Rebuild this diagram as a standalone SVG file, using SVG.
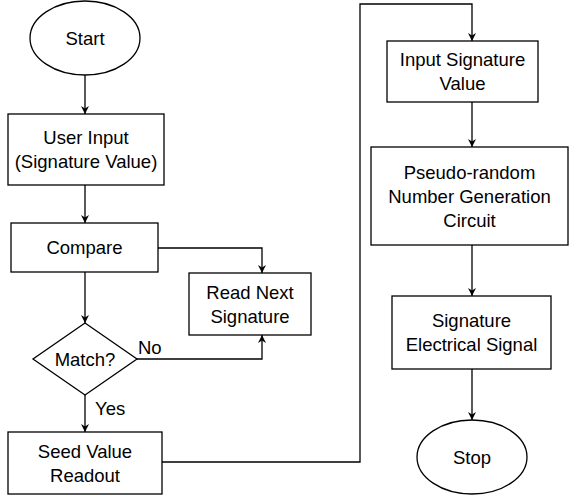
<svg xmlns="http://www.w3.org/2000/svg" width="569" height="496" viewBox="0 0 569 496">
<style>
.s{fill:#fff;stroke:#000;stroke-width:1.3}
.t{font-family:"Liberation Sans",Arial,sans-serif;font-size:18.5px;fill:#000;text-anchor:middle}
.l{font-family:"Liberation Sans",Arial,sans-serif;font-size:18.5px;fill:#000}
.c{fill:none;stroke:#000;stroke-width:1.3;marker-end:url(#a)}
</style>
<defs>
<marker id="a" viewBox="0 0 10 10" refX="10" refY="5" markerWidth="8" markerHeight="8" markerUnits="userSpaceOnUse" orient="auto">
<path d="M0,0 L10,5 L0,10 L3,5 Z" fill="#000"/>
</marker>
</defs>
<g id="connectors">
<path class="c" d="M85,75 V114"/>
<path class="c" d="M85,185 V223"/>
<path class="c" d="M158,248 H262 V273"/>
<path class="c" d="M85,272 V323"/>
<path class="c" d="M137,359 H262 V335"/>
<path class="c" d="M85,395 V432"/>
<path class="c" d="M162,462 H360 V4 H472 V41"/>
<path class="c" d="M472,102 V147"/>
<path class="c" d="M472,245 V296"/>
<path class="c" d="M472,369 V420"/>
<text class="l" x="138" y="354">No</text>
<text class="l" x="95" y="415">Yes</text>
</g>
<g id="start">
<ellipse class="s" cx="85" cy="38" rx="55" ry="37"/>
<text class="t" x="85" y="44.5">Start</text>
</g>
<g id="user-input">
<rect class="s" x="8" y="114" width="156" height="71"/>
<text class="t" x="86" y="144">User Input</text>
<text class="t" x="86" y="168">(Signature Value)</text>
</g>
<g id="compare">
<rect class="s" x="11" y="223" width="147" height="49"/>
<text class="t" x="84.5" y="254">Compare</text>
</g>
<g id="read-next">
<rect class="s" x="189" y="273" width="122" height="62"/>
<text class="t" x="250" y="298.5">Read Next</text>
<text class="t" x="250" y="322.5">Signature</text>
</g>
<g id="match">
<polygon class="s" points="85,323 137,359 85,395 33,359"/>
<text class="t" x="85" y="365.5">Match?</text>
</g>
<g id="seed">
<rect class="s" x="8" y="432" width="154" height="62"/>
<text class="t" x="85" y="457.5">Seed Value</text>
<text class="t" x="85" y="481.5">Readout</text>
</g>
<g id="input-signature">
<rect class="s" x="387" y="41" width="151" height="61"/>
<text class="t" x="462.5" y="66">Input Signature</text>
<text class="t" x="462.5" y="90">Value</text>
</g>
<g id="prng">
<rect class="s" x="371" y="147" width="197" height="98"/>
<text class="t" x="469.5" y="178.5">Pseudo-random</text>
<text class="t" x="469.5" y="202.5">Number Generation</text>
<text class="t" x="469.5" y="226.5">Circuit</text>
</g>
<g id="signature-signal">
<rect class="s" x="392" y="296" width="159" height="73"/>
<text class="t" x="471.5" y="327">Signature</text>
<text class="t" x="471.5" y="351">Electrical Signal</text>
</g>
<g id="stop">
<ellipse class="s" cx="472" cy="457" rx="55" ry="37"/>
<text class="t" x="472" y="463.5">Stop</text>
</g>
</svg>
